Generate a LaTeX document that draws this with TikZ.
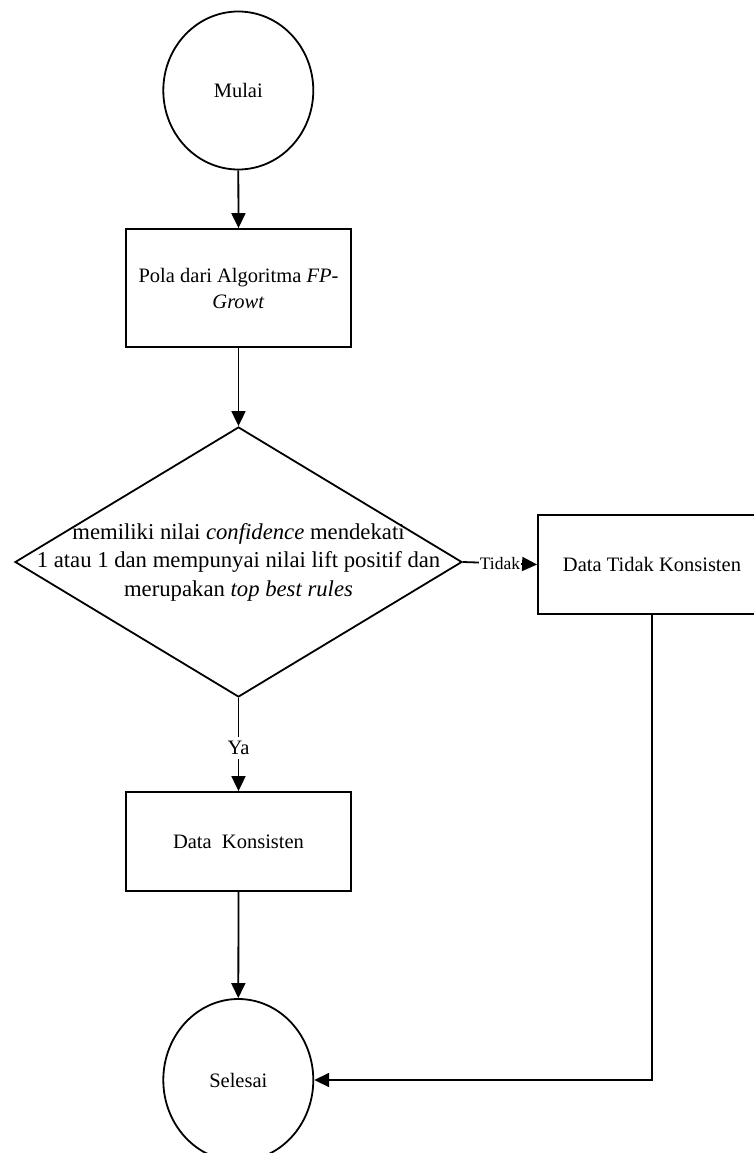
\documentclass[tikz,border=0pt]{standalone}
\usepackage{fontspec}
\setmainfont{Liberation Serif}
\usetikzlibrary{shapes.geometric,arrows.meta}
\tikzset{
  base/.style={draw=black, line width=1.8pt, inner sep=0pt, align=center},
  term/.style={base, ellipse, minimum width=150pt, minimum height=158pt, font=\fontsize{20.5}{24}\selectfont},
  procbox/.style={base, rectangle, font=\fontsize{20.5}{26}\selectfont},
  decbox/.style={base, diamond, minimum width=447pt, minimum height=270pt},
  conn/.style={line width=1.8pt, -{Triangle[length=15pt,width=14pt]}},
  lbl/.style={fill=white, inner sep=1pt, text=black}
}
\begin{document}
\begin{tikzpicture}[x=1pt,y=-1pt]
\useasboundingbox (0,0) rectangle (754,1153);
\node[term] (mulai) at (238.3,90.5) {Mulai};
\node[procbox, minimum width=225pt, minimum height=118pt] (pola) at (238.5,288) {Pola dari Algoritma \textit{FP}-\\\textit{Growt}};
\node[decbox] (dec) at (238.5,562) {};
\node[align=center, font=\fontsize{22.7}{28.5}\selectfont] (dectext) at (dec.center) {memiliki nilai \textit{confidence} mendekati\\1 atau 1 dan mempunyai nilai lift positif dan\\merupakan \textit{top best rules}};
\node[procbox, minimum width=228pt, minimum height=99pt] (tidak) at (652,564.5) {Data Tidak Konsisten};
\node[procbox, minimum width=225pt, minimum height=99pt] (kons) at (238.5,841.5) {Data~~Konsisten};
\node[term, minimum height=162pt] (selesai) at (238.3,1080) {Selesai};

\draw[conn] (mulai.south) -- (pola.north);
\draw[conn] (pola.south) -- (dec.north);
\draw[conn] (dec.east) -- node[lbl, font=\fontsize{17.5}{20}\selectfont] (ltidak) {Tidak} (tidak.west);
\draw[conn] (dec.south) -- node[lbl, pos=0.54, inner sep=4pt, font=\fontsize{20.5}{24}\selectfont] (lya) {Ya} (kons.north);
\draw[conn] (kons.south) -- (selesai.north);
\draw[conn] (tidak.south) |- (selesai.east);
\end{tikzpicture}
\end{document}
